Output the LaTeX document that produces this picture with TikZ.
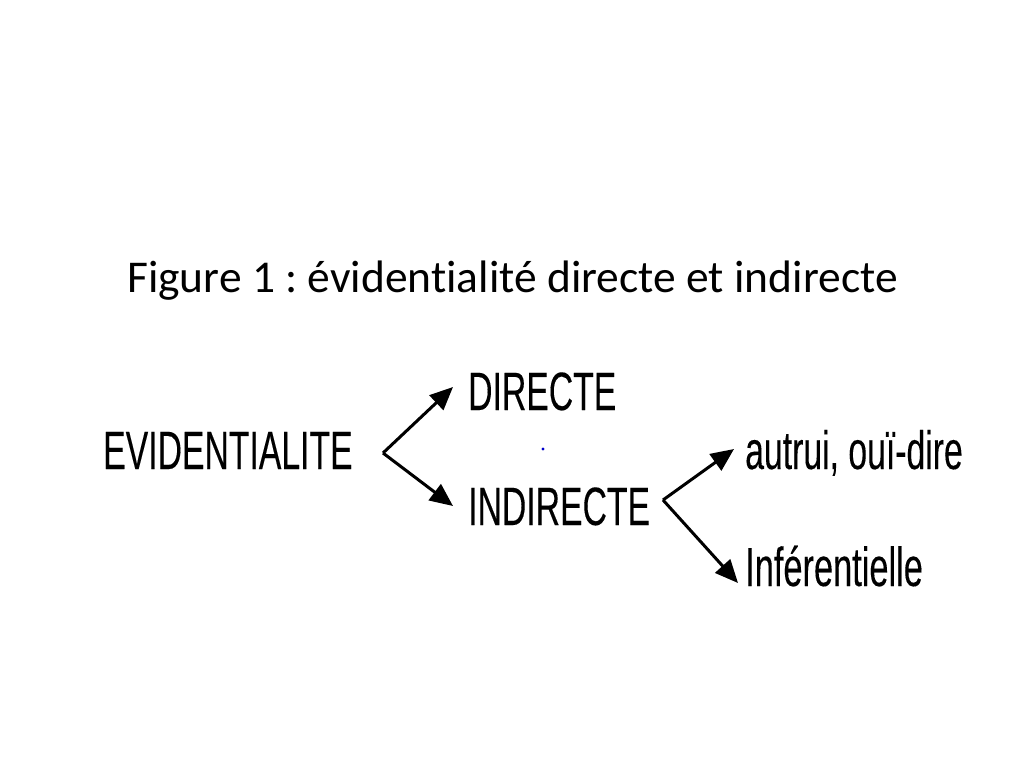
\documentclass[tikz,border=0pt]{standalone}
\usepackage{fontspec}
\usetikzlibrary{arrows.meta}
\newfontfamily\narrowfont[FakeStretch=0.625,FakeBold=0.15]{Liberation Sans}
\newfontfamily\titlefont[Ligatures=NoCommon]{Carlito}
\frenchspacing
\begin{document}
\begin{tikzpicture}[x=1pt,y=-1pt,
  lbl/.style={anchor=base west,inner sep=0pt,font=\narrowfont\fontsize{54}{62}\selectfont},
  arr/.style={line width=3pt,-{Triangle[length=23pt,width=20pt]}}]
\useasboundingbox (0,0) rectangle (1024,768);
\node[anchor=base west,inner sep=0pt,font=\titlefont\fontsize{45.5}{54}\selectfont] (title) at (127,292) {Figure 1 : évidentialité directe et indirecte};
\node[lbl] (evid) at (103,469) {EVIDENTIALITE};
\node[lbl] (dir) at (468,410) {DIRECTE};
\node[lbl] (ind) at (468,525) {INDIRECTE};
\node[lbl] (aut) at (745,469) {autrui, ouï-dire};
\node[lbl,font=\narrowfont\fontsize{55}{62}\selectfont] (inf) at (745,586) {Inférentielle};
\coordinate (f1) at (383,453);
\coordinate (f2) at (663,500);
\coordinate (t1) at (453,387);
\coordinate (t2) at (453,506);
\coordinate (t3) at (734,449);
\coordinate (t4) at (738,583);
\draw[arr] (f1) -- (t1);
\draw[arr] (f1) -- (t2);
\draw[arr] (f2) -- (t3);
\draw[arr] (f2) -- (t4);
\fill[blue!80!black] (543,449) circle (1.6pt);
\end{tikzpicture}
\end{document}
